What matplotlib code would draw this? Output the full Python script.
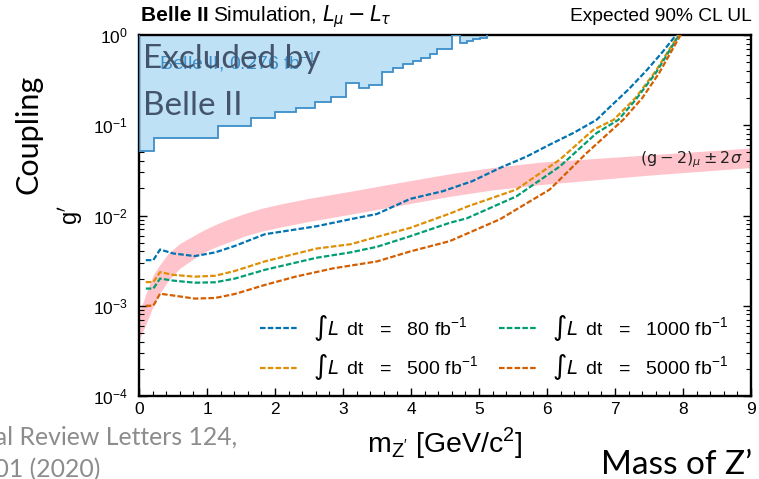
import numpy as np
import matplotlib
matplotlib.use("Agg")
import matplotlib.pyplot as plt
from matplotlib.ticker import MultipleLocator, LogLocator, NullFormatter

plt.rcParams['font.family'] = 'Liberation Sans'
plt.rcParams['mathtext.fontset'] = 'dejavusans'

# Belle II exclusion with 0.276 fb^-1 (step contour, coupling per mass bin)
excl_edges = [0.0, 0.22, 1.16, 1.65, 2.0, 2.31, 2.59, 2.82, 3.04, 3.24, 3.38, 3.57,
              3.74, 3.88, 4.03, 4.15, 4.28, 4.38, 4.6, 4.72, 4.82, 4.91, 5.01, 5.12]
excl_coupling = [0.052, 0.072, 0.099, 0.121, 0.141, 0.156, 0.18, 0.206, 0.295, 0.26,
                 0.28, 0.39, 0.43, 0.48, 0.52, 0.56, 0.62, 0.70, 1.0, 0.81, 0.86, 0.90, 0.93]

# (g-2)_mu +- 2 sigma preferred band
band_mass = [0.0, 0.07, 0.1, 0.21, 0.3, 0.43, 0.6, 0.92, 1.1, 1.3, 1.55, 1.8, 2.1, 2.5,
             3.1, 3.8, 4.57, 5.2, 5.9, 7.5, 9.0]
band_low = [4.2e-4, 5.5e-4, 6.2e-4, 1.0e-3, 1.35e-3, 1.9e-3, 2.6e-3, 3.8e-3, 4.4e-3,
            5.0e-3, 5.9e-3, 6.7e-3, 7.5e-3, 8.6e-3, 1.03e-2, 1.28e-2, 1.63e-2, 1.92e-2,
            2.2e-2, 2.8e-2, 3.4e-2]
band_high = [8.5e-4, 1.15e-3, 1.35e-3, 2.2e-3, 2.8e-3, 3.8e-3, 4.9e-3, 6.7e-3, 7.8e-3,
             9.0e-3, 1.05e-2, 1.2e-2, 1.35e-2, 1.55e-2, 1.85e-2, 2.3e-2, 2.9e-2, 3.4e-2,
             3.9e-2, 4.7e-2, 5.6e-2]

# Expected 90% CL upper limits on g' for each integrated luminosity
mass_80 = [0.1, 0.21, 0.31, 0.5, 0.82, 1.12, 1.41, 1.85, 2.61, 3.11, 3.5, 3.99, 4.47,
           4.9, 5.31, 5.7, 6.04, 6.4, 6.73, 6.88, 7.2, 7.47, 7.7, 7.92]
g_80 = [3.2e-3, 3.2e-3, 4.2e-3, 3.8e-3, 3.55e-3, 3.9e-3, 4.6e-3, 6.2e-3, 7.6e-3, 9.1e-3,
        1.04e-2, 1.53e-2, 1.86e-2, 2.4e-2, 3.37e-2, 4.5e-2, 6.1e-2, 8.3e-2, 0.115, 0.148,
        0.25, 0.41, 0.65, 1.05]

mass_500 = [0.1, 0.21, 0.31, 0.5, 0.82, 1.12, 1.41, 1.85, 2.61, 3.11, 3.5, 3.99, 4.57,
            4.82, 5.55, 6.19, 6.68, 6.98, 7.3, 7.6, 7.95]
g_500 = [1.83e-3, 1.83e-3, 2.36e-3, 2.2e-3, 2.1e-3, 2.15e-3, 2.43e-3, 3.1e-3, 4.3e-3,
         4.8e-3, 5.8e-3, 7.3e-3, 1.05e-2, 1.25e-2, 1.94e-2, 4.17e-2, 8.9e-2, 0.115, 0.2,
         0.4, 1.05]

mass_1000 = [0.1, 0.21, 0.31, 0.5, 0.82, 1.12, 1.41, 1.85, 2.61, 3.11, 3.5, 3.99, 4.57,
             4.82, 5.55, 6.19, 6.73, 7.05, 7.3, 7.6, 7.96]
g_1000 = [1.55e-3, 1.55e-3, 2.0e-3, 1.9e-3, 1.8e-3, 1.82e-3, 2.0e-3, 2.5e-3, 3.4e-3,
          3.9e-3, 4.5e-3, 5.9e-3, 8.3e-3, 9.3e-3, 1.63e-2, 3.5e-2, 8.2e-2, 0.115, 0.19,
          0.38, 1.05]

mass_5000 = [0.1, 0.21, 0.31, 0.5, 0.82, 1.12, 1.41, 1.85, 2.3, 2.86, 3.5, 3.99, 4.57,
             5.31, 6.04, 6.58, 7.12, 7.4, 7.65, 7.98]
g_5000 = [1.0e-3, 1.0e-3, 1.36e-3, 1.3e-3, 1.2e-3, 1.22e-3, 1.35e-3, 1.7e-3, 2.1e-3,
          2.6e-3, 3.1e-3, 4.0e-3, 5.2e-3, 9.1e-3, 1.94e-2, 4.9e-2, 0.115, 0.2, 0.38, 1.05]

lumi_labels = ["80", "500", "1000", "5000"]
line_colors = ["#0173b2", "#de8f05", "#029e73", "#d55e00"]

W, H = 759, 479
fig = plt.figure(figsize=(W / 100, H / 100), dpi=100)
ax = fig.add_axes([139 / W, 1 - 396 / H, 612 / W, 361 / H])
ax.set_yscale('log')
ax.set_xlim(0, 9)
ax.set_ylim(1e-4, 1)

ax.fill_between(band_mass, band_low, band_high, color='#ffc4cb', lw=0, zorder=1)
ax.stairs(excl_coupling, excl_edges, baseline=1.0, fill=True, color='#bfe1f6', zorder=2)
ax.stairs(excl_coupling, excl_edges, baseline=1.0, fill=False, color='#3d8ec9',
          lw=1.3, zorder=3)

series = [(mass_80, g_80), (mass_500, g_500), (mass_1000, g_1000), (mass_5000, g_5000)]
for (m, g), lab, c in zip(series, lumi_labels, line_colors):
    ax.plot(m, g, color=c, lw=1.6, ls=(0, (2.5, 1.0)), zorder=4,
            label=r"$\int L\,$ dt   =   " + lab + r" fb$^{\mathregular{-1}}$")

ax.legend(ncol=2, loc='lower left', bbox_to_anchor=(0.198, 0.038), frameon=False,
          fontsize=14, handlelength=1.95, handletextpad=0.75, columnspacing=1.1,
          labelspacing=0.5, borderpad=0, borderaxespad=0)

ax.text(8.87, 0.0416, r"$(\mathrm{g}-2)_{\mu} \pm 2\sigma$", ha='right', va='center',
        fontsize=11.5, family='DejaVu Sans', color='#222222', zorder=5)
ax.text(0.3, 0.49, r"Belle II, 0.276 fb$^{\mathregular{-1}}$", color='#3d8ec9',
        fontsize=14, va='center', zorder=5)
ax.text(0.06, 0.432, "Excluded by", color='#44546a', fontsize=24,
        family='Lato', va='baseline', ha='left', zorder=6)
ax.text(0.06, 0.1306, "Belle II", color='#44546a', fontsize=24,
        family='Lato', va='baseline', ha='left', zorder=6)

ax.xaxis.set_major_locator(MultipleLocator(1))
ax.xaxis.set_minor_locator(MultipleLocator(0.2))
ax.yaxis.set_major_locator(LogLocator(base=10, numticks=10))
ax.yaxis.set_minor_locator(LogLocator(base=10, subs=np.arange(2, 10), numticks=20))
ax.yaxis.set_minor_formatter(NullFormatter())
ax.tick_params(which='both', direction='in', top=False, right=True, labelsize=12.5,
               colors='black')
ax.tick_params(which='major', length=6, width=1)
ax.tick_params(which='minor', length=3.5, width=0.8)
ax.tick_params(axis='y', pad=8)
ax.tick_params(axis='x', pad=4)
for s in ax.spines.values():
    s.set_linewidth(1.7)

ax.set_xlabel(r"m$_{\mathregular{Z'}}$ [GeV/c$^{\mathregular{2}}$]", fontsize=20.5,
              labelpad=6)
ax.set_ylabel(r"g$^{\prime}$", fontsize=17, labelpad=6)

t1 = fig.text(141 / W, 1 - 21 / H, "Belle II", fontsize=15, weight='bold',
              va='baseline')
fig.canvas.draw()
bb = t1.get_window_extent()
fig.text(bb.x1 / W + 4 / W, 1 - 21 / H, r"Simulation, $L_{\mu} - L_{\tau}$",
         fontsize=15, va='baseline')
fig.text(752 / W, 1 - 21 / H, "Expected 90% CL UL", fontsize=13.8, ha='right',
         va='baseline')

fig.text(28 / W, 1 - 134 / H, "Coupling", fontsize=22, family='Lato', rotation=90,
         ha='center', va='center', color='black')
fig.text(752 / W, 1 - 474 / H, "Mass of Z\u2019", fontsize=24, family='Lato',
         ha='right', va='baseline', color='black')

# journal reference, partly running off the left edge
cite1 = fig.text(237 / W, 1 - 445 / H, "Physical Review Letters 124,", fontsize=17.8,
                 family='Lato', color='#8c8c8c', ha='right', va='baseline')
fig.canvas.draw()
cb = cite1.get_window_extent()
fig.text((cb.x0 + 12) / W, 1 - 477 / H, "141801 (2020)", fontsize=17.8, family='Lato',
         color='#8c8c8c', ha='left', va='baseline')

fig.savefig("out.png", dpi=100)
